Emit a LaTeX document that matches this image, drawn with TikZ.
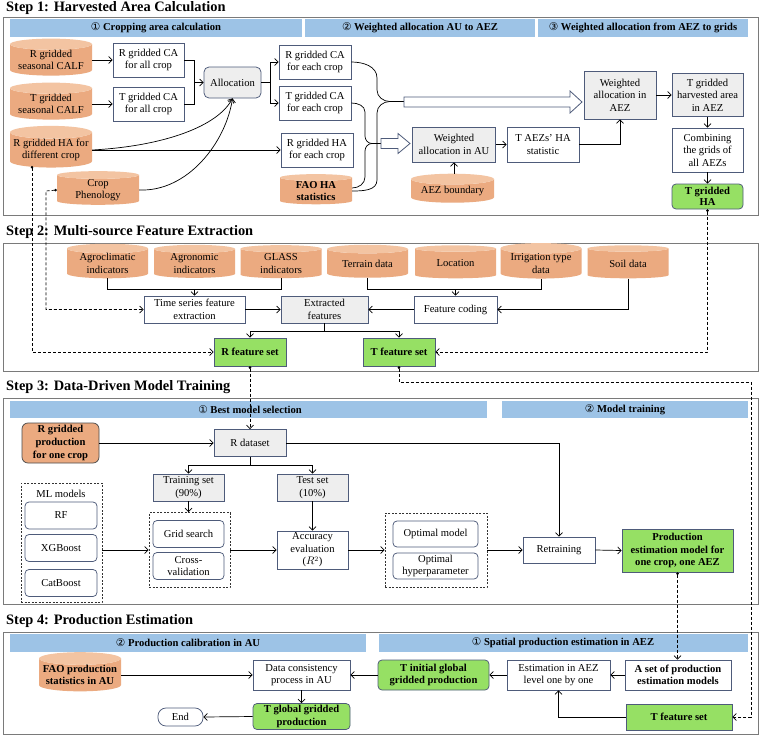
\documentclass[tikz,border=0pt]{standalone}
\usepackage{fontspec}
\setmainfont{Liberation Serif}
\newfontfamily\circf{DejaVu Sans}
\usetikzlibrary{arrows.meta,shapes.geometric}
\definecolor{bord}{HTML}{4E5B7A}
\definecolor{grayf}{HTML}{EEEEEE}
\definecolor{greenf}{HTML}{96E064}
\definecolor{orb}{HTML}{EBAA80}
\definecolor{ort}{HTML}{F3C4A2}
\definecolor{bluef}{HTML}{9DC3E6}
\definecolor{framec}{HTML}{7A7A7A}
\newcommand\bodyf{\fontsize{10.6}{12.6}\selectfont}
\newcommand\bodyb{\fontsize{10.6}{12.6}\selectfont\bfseries}
\newcommand\steptf{\fontsize{14.4}{16}\selectfont\bfseries}
\newcommand\cn[1]{{\circf\mdseries #1}}
\tikzset{
 bx/.style={draw=bord, line width=0.75pt, fill=white, align=center, inner sep=0pt, font=\bodyf},
 gbx/.style={bx, fill=grayf},
 rbx/.style={bx, rounded corners=4pt},
 grn/.style={bx, fill=greenf, font=\bodyb},
 cyl/.style={cylinder, shape border rotate=90, aspect=0.17, cylinder uses custom fill, cylinder body fill=orb, cylinder end fill=ort, draw=none, align=center, inner sep=0pt, font=\bodyf},
 arr/.style={-{Straight Barb[length=3.5pt,width=7pt]}, line width=0.7pt},
 dsh/.style={dash pattern=on 3pt off 2pt, line width=0.7pt},
 dsharr/.style={dsh, {Circle[length=2.5pt]}-{Straight Barb[length=3.5pt,width=7pt]}},
 cont/.style={draw=black!80, dash pattern=on 2pt off 1.5pt, line width=0.8pt, fill=white, inner sep=0pt},
 frm/.style={draw=framec, line width=1pt},
 bar/.style={fill=bluef},
 bart/.style={font=\bodyb, inner sep=0pt},
 stept/.style={font=\steptf, anchor=west, inner sep=0pt},
 hollow/.style={draw=bord, line width=0.8pt, fill=white},
}
\begin{document}
\begin{tikzpicture}[x=1pt,y=-1pt]
\useasboundingbox (0,0) rectangle (760,737);
\fill[white] (0,0) rectangle (760,737);

% ---------- frames and titles ----------
\draw[frm] (3,17) rectangle (758,215);
\draw[frm] (3,243) rectangle (758,371);
\draw[frm] (3,398) rectangle (758,604);
\draw[frm] (3,632) rectangle (758,734);
\node[stept] (t1) at (6,8) {Step 1: Harvested Area Calculation};
\node[stept] (t2) at (6,232) {Step 2: Multi-source Feature Extraction};
\node[stept] (t3) at (6,387) {Step 3: Data-Driven Model Training};
\node[stept] (t4) at (6,621) {Step 4: Production Estimation};

% ---------- header bars ----------
\fill[bar] (10,19) rectangle (302,37);
\fill[bar] (305,19) rectangle (535,37);
\fill[bar] (538,19) rectangle (748,37);
\node[bart] (h11) at (156,28) {\cn{①} Cropping area calculation};
\node[bart] (h12) at (420,28) {\cn{②} Weighted allocation AU to AEZ};
\node[bart] (h13) at (643,28) {\cn{③} Weighted allocation from AEZ to grids};
\fill[bar] (10,401) rectangle (487,418);
\fill[bar] (502,401) rectangle (748,418);
\node[bart] (h31) at (250,409.5) {\cn{①} Best model selection};
\node[bart] (h32) at (625,409.5) {\cn{②} Model training};
\fill[bar] (10,634) rectangle (366,652);
\fill[bar] (379,634) rectangle (748,652);
\node[bart] (h41) at (188,643) {\cn{②} Production calibration in AU};
\node[bart] (h42) at (563,643) {\cn{①} Spatial production estimation in AEZ};

% ---------- Step 1 ----------
\node[cyl, minimum width=82, minimum height=30] (c1) at (51,60) {R gridded\\seasonal CALF};
\node[cyl, minimum width=82, minimum height=30] (c2) at (51,104) {T gridded\\seasonal CALF};
\node[cyl, minimum width=82, minimum height=30] (c3) at (51,150) {R gridded HA for\\different crop};
\node[cyl, minimum width=82, minimum height=29] (c4) at (98,190) {Crop\\Phenology};
\node[bx, minimum width=71, minimum height=34] (rcaall) at (148.5,60) {R gridded CA\\for all crop};
\node[bx, minimum width=71, minimum height=34] (tcaall) at (148.5,104) {T gridded CA\\for all crop};
\node[gbx, rounded corners=5pt, minimum width=57, minimum height=31] (alloc) at (232.5,82.5) {Allocation};
\node[bx, minimum width=72, minimum height=34] (rcaeach) at (315,62) {R gridded CA\\for each crop};
\node[bx, minimum width=72, minimum height=34] (tcaeach) at (315,103) {T gridded CA\\for each crop};
\node[bx, minimum width=72, minimum height=34] (rhaeach) at (317,150) {R gridded HA\\for each crop};
\node[cyl, font=\bodyb, minimum width=72, minimum height=29] (faoha) at (316,191) {FAO HA\\statistics};
\node[gbx, minimum width=83, minimum height=35] (wau) at (454,144.5) {Weighted\\allocation in AU};
\node[bx, minimum width=72, minimum height=35] (taez) at (543,144.5) {T AEZs’ HA\\statistic};
\node[cyl, minimum width=83, minimum height=29] (aezb) at (452.5,191) {AEZ boundary};
\node[gbx, minimum width=72, minimum height=48] (waez) at (620,95) {Weighted\\allocation in\\AEZ};
\node[gbx, minimum width=71, minimum height=43] (tgh) at (707.5,95) {T gridded\\harvested area\\in AEZ};
\node[bx, minimum width=71, minimum height=44] (comb) at (707.5,150) {Combining\\the grids of\\all AEZs};
\node[grn, rounded corners=4pt, minimum width=71, minimum height=25, font=\fontsize{10.6}{11.5}\selectfont\bfseries] (tgha) at (707.5,196.5) {T gridded\\HA};

\coordinate (j1) at (194,82.5);
\draw[line width=0.7pt] (rcaall.east) -| (j1);
\draw[line width=0.7pt] (tcaall.east) -| (j1);
\draw[arr] (j1) -- (alloc.west);
\coordinate (j2) at (270,82.5);
\draw[line width=0.7pt] (alloc.east) -- (j2);
\draw[arr] (j2) |- (rcaeach.west);
\draw[arr] (j2) |- (tcaeach.west);
\draw[arr] (c1.east) -- (c1.east -| rcaall.west);
\draw[arr] (c2.east) -- (c2.east -| tcaall.west);
\draw[arr] (c3.east) -- (c3.east -| rhaeach.west);
\draw[arr] (c3.east) .. controls (165,146) and (218,126) .. (alloc.south);
\draw[arr] (c4.east) .. controls (188,192) and (226,142) .. (alloc.south);

% braces
\draw[line width=0.7pt] (rcaeach.east) to[out=0,in=90] (377,78) -- (377,90) to[out=-90,in=180] (390,101.5) -- (404,101.5);
\draw[line width=0.7pt] (390,101.5) to[out=180,in=90] (377,113) -- (377,180) to[out=-90,in=0] (faoha.east);
\draw[line width=0.7pt] (tcaeach.east) to[out=0,in=90] (365,112) -- (365,136) to[out=-90,in=180] (372,143.5) -- (381,143.5);
\draw[line width=0.7pt] (372,143.5) to[out=180,in=90] (365,151) -- (365,177) to[out=-90,in=0] ([yshift=3pt]faoha.east);

\draw[hollow] (404,97) -- (570,97) -- (570,91) -- (582,102) -- (570,113) -- (570,107) -- (404,107) -- cycle;
\draw[hollow] (381,138.5) -- (398,138.5) -- (398,133.5) -- (410,143.5) -- (398,153.5) -- (398,148.5) -- (381,148.5) -- cycle;

\draw[arr] (wau.east) -- (taez.west);
\draw[arr] (aezb.north -| wau.south) -- (wau.south);
\draw[arr] (taez.east) -| (waez.south);
\draw[arr] (waez.east) -- (tgh.west);
\draw[arr] (tgh.south) -- (comb.north);
\draw[arr] (comb.south) -- (tgha.north);

% ---------- Step 2 ----------
\node[cyl, minimum width=81, minimum height=33] (agro) at (107.5,263.5) {Agroclimatic\\indicators};
\node[cyl, minimum width=81, minimum height=33] (agron) at (194.5,263.5) {Agronomic\\indicators};
\node[cyl, minimum width=81, minimum height=33] (glass) at (281,263.5) {GLASS\\indicators};
\node[cyl, minimum width=81, minimum height=33] (terr) at (367.5,263.5) {Terrain data};
\node[cyl, minimum width=81, minimum height=33] (loc) at (455.5,263.5) {Location};
\node[cyl, minimum width=81, minimum height=33] (irr) at (541,263.5) {Irrigation type\\data};
\node[cyl, minimum width=81, minimum height=33] (soil) at (628,263.5) {Soil data};
\node[bx, minimum width=101, minimum height=27] (tsfe) at (194.5,309.5) {Time series feature\\extraction};
\node[gbx, minimum width=87, minimum height=27] (extr) at (324.5,309.5) {Extracted\\features};
\node[bx, minimum width=83, minimum height=27] (fcod) at (455.5,309.5) {Feature coding};
\node[grn, minimum width=72, minimum height=28] (rfs) at (250,352) {R feature set};
\node[grn, minimum width=72, minimum height=28] (tfs) at (399,352) {T feature set};

\coordinate (j3) at (194.5,289);
\draw[line width=0.7pt] (agro.south) |- (glass.south |- j3) -- (glass.south);
\draw[arr] (j3) -- (tsfe.north);
\coordinate (j4) at (455.5,289);
\draw[line width=0.7pt] (terr.south) |- (irr.south |- j4) -- (irr.south);
\draw[arr] (j4) -- (fcod.north);
\draw[arr] (soil.south) |- (fcod.east);
\draw[arr] (fcod.west) -- (extr.east);
\draw[arr] (tsfe.east) -- (extr.west);
\coordinate (j5) at (324.5,331);
\draw[line width=0.7pt] (extr.south) -- (j5);
\draw[arr] (j5) -| (rfs.north);
\draw[arr] (j5) -| (tfs.north);

% dashed connectors
\coordinate (d1) at (32,166);
\draw[dsharr] (d1) |- (rfs.west);
\coordinate (d2) at (46,191);
\draw[dsharr] (c4.west) -- (d2) |- (tsfe.west);
\draw[dsharr] (tgha.south) |- (tfs.east);
\coordinate (d3) at (751,382);

% ---------- Step 3 ----------
\node[bx, fill=orb, rounded corners=6pt, draw=black!70, font=\bodyb, minimum width=77, minimum height=40] (rgp) at (60.5,443) {R gridded\\production\\for one crop};
\node[gbx, minimum width=72, minimum height=27] (rds) at (250,443) {R dataset};
\draw[dsharr] (rfs.south) -- (rds.north);
\node[gbx, minimum width=71, minimum height=27] (trs) at (188.5,487.5) {Training set\\(90\%)};
\node[gbx, minimum width=71, minimum height=27] (tes) at (312.5,487.5) {Test set\\(10\%)};
\node[cont, minimum width=81, minimum height=119] (mlc) at (61.5,542.5) {};
\node[font=\bodyf, inner sep=0pt] (mlt) at (61,494) {ML models};
\node[rbx, minimum width=72, minimum height=27] (rf) at (61,515.5) {RF};
\node[rbx, minimum width=72, minimum height=27] (xgb) at (61,548) {XGBoost};
\node[rbx, minimum width=72, minimum height=27] (catb) at (61,583) {CatBoost};
\node[cont, minimum width=81, minimum height=75] (gsc) at (189.5,550) {};
\node[rbx, minimum width=71, minimum height=27] (gs) at (188.5,534) {Grid search};
\node[rbx, minimum width=71, minimum height=27] (cv) at (188.5,566) {Cross-\\validation};
\node[bx, minimum width=71, minimum height=38] (acc) at (312.5,550) {Accuracy\\evaluation\\($R^2$)};
\node[cont, minimum width=102, minimum height=74] (optc) at (436,550) {};
\node[rbx, minimum width=85, minimum height=26] (om) at (435.5,534) {Optimal model};
\node[rbx, minimum width=85, minimum height=26] (oh) at (435.5,566) {Optimal\\hyperparameter};
\node[bx, minimum width=72, minimum height=26] (ret) at (559,550) {Retraining};
\node[grn, minimum width=111, minimum height=43] (prod) at (677.5,550.5) {Production\\estimation model for\\one crop, one AEZ};

\draw[arr] (rgp.east) -- (rds.west);
\draw[arr] (rds.east) -| (ret.north);
\coordinate (j6) at (250,465);
\draw[line width=0.7pt] (rds.south) -- (j6);
\draw[arr] (j6) -| (trs.north);
\draw[arr] (j6) -| (tes.north);
\draw[arr] (trs.south) -- (trs.south |- gsc.north);
\draw[arr] (tes.south) -- (acc.north);
\draw[arr] (mlc.east |- gsc.west) -- (gsc.west);
\draw[arr] (gsc.east) -- (acc.west);
\draw[arr] (acc.east) -- (optc.west);
\draw[arr] (optc.east) -- (ret.west);
\draw[arr] (ret.east) -- (prod.west);

% ---------- Step 4 ----------
\node[cyl, font=\bodyb, minimum width=82, minimum height=33] (faop) at (80,675) {FAO production\\statistics in AU};
\node[bx, minimum width=97, minimum height=30] (dcp) at (301.5,675) {Data consistency\\process in AU};
\node[grn, rounded corners=4pt, minimum width=97, minimum height=26] (tgg) at (301.5,716.5) {T global gridded\\production};
\node[bx, rounded corners=8pt, minimum width=45, minimum height=18] (endn) at (180.5,717) {End};
\node[grn, rounded corners=4pt, minimum width=111, minimum height=30] (tig) at (433.5,675) {T initial global\\gridded production};
\node[bx, minimum width=103, minimum height=30] (est) at (558.5,675) {Estimation in AEZ\\level one by one};
\node[bx, font=\bodyb, minimum width=106, minimum height=30] (aset) at (678,675) {A set of production\\estimation models};
\node[grn, minimum width=106, minimum height=26] (tfs4) at (679,717) {T feature set};

\draw[arr] (faop.east) -- (faop.east -| dcp.west);
\draw[arr] (dcp.south) -- (tgg.north);
\draw[arr] (tgg.west) -- (endn.east);
\draw[arr] (tig.west) -- (dcp.east);
\draw[arr] (est.west) -- (tig.east);
\draw[arr] (aset.west) -- (est.east);
\draw[arr] (tfs4.west) -| (est.south);

\draw[dsharr] (prod.south) -- (prod.south |- aset.north);
\draw[dsharr] (tfs.south) |- (d3) |- (tfs4.east);
\end{tikzpicture}
\end{document}
